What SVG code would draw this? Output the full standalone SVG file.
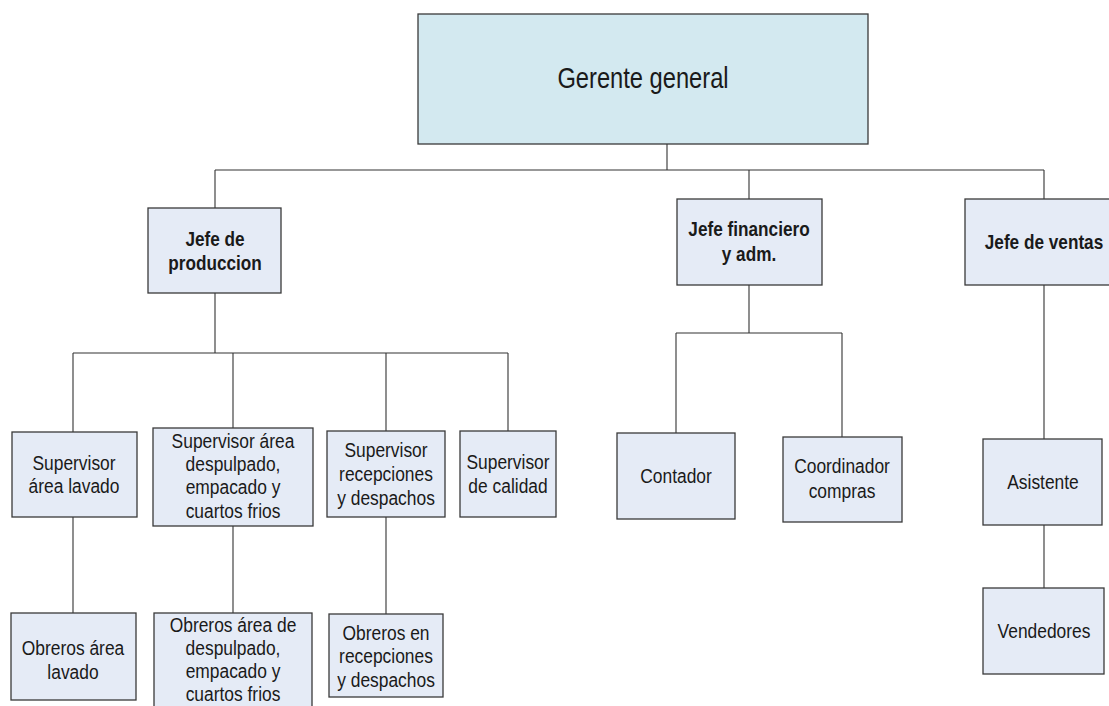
<svg xmlns="http://www.w3.org/2000/svg" width="1109" height="706" viewBox="0 0 1109 706">
  <style>
    .box { fill: #E5EBF6; stroke: #3a3a3a; stroke-width: 1.3; }
    .top { fill: #D3E9F0; stroke: #3a3a3a; stroke-width: 1.3; }
    .lbl { font-family: "Liberation Sans", Arial, sans-serif; font-size: 20px; fill: #1a1a1a; text-anchor: middle; }
    .bold { font-weight: bold; }
    .big { font-size: 30px; }
    .wire { fill: none; stroke: #333; stroke-width: 1.1; }
  </style>
  <rect width="1109" height="706" fill="#ffffff"/>

  <!-- connectors -->
  <g id="connectors" class="wire">
    <path d="M667 144 V170 M215 170 H1044 M215 170 V208 M749 170 V199 M1044 170 V199"/>
    <path d="M215 293 V353 M73 353 H508 M73 353 V432 M233 353 V428 M386 353 V431 M508 353 V431"/>
    <path d="M73 517 V613 M233 526 V613 M386 517 V614"/>
    <path d="M749 285 V333 M676 333 H842 M676 333 V433 M842 333 V437"/>
    <path d="M1044 285 V439 M1044 525 V588"/>
  </g>

  <g id="gerente">
    <rect class="top" x="418" y="14" width="450" height="130"/>
    <text class="lbl big" transform="translate(643,88) scale(0.79,1)">Gerente general</text>
  </g>

  <g id="jefe-produccion">
    <rect class="box" x="148" y="208" width="133" height="85"/>
    <text class="lbl bold" transform="translate(215,245.5) scale(0.86,1)"><tspan x="0">Jefe de</tspan><tspan x="0" dy="25">produccion</tspan></text>
  </g>

  <g id="jefe-financiero">
    <rect class="box" x="677" y="199" width="145" height="86"/>
    <text class="lbl bold" transform="translate(749,236) scale(0.86,1)"><tspan x="0">Jefe financiero</tspan><tspan x="0" dy="25">y adm.</tspan></text>
  </g>

  <g id="jefe-ventas">
    <rect class="box" x="965" y="199" width="158" height="86"/>
    <text class="lbl bold" transform="translate(1044,249) scale(0.86,1)">Jefe de ventas</text>
  </g>

  <g id="sup-lavado">
    <rect class="box" x="12" y="432" width="125" height="85"/>
    <text class="lbl" transform="translate(74,469.5) scale(0.87,1)"><tspan x="0">Supervisor</tspan><tspan x="0" dy="24">área lavado</tspan></text>
  </g>

  <g id="sup-despulpado">
    <rect class="box" x="153" y="428" width="160" height="98"/>
    <text class="lbl" transform="translate(233,447.5) scale(0.87,1)"><tspan x="0">Supervisor área</tspan><tspan x="0" dy="23.4">despulpado,</tspan><tspan x="0" dy="23.4">empacado y</tspan><tspan x="0" dy="23.4">cuartos frios</tspan></text>
  </g>

  <g id="sup-recepciones">
    <rect class="box" x="327" y="431" width="118" height="86"/>
    <text class="lbl" transform="translate(386,457) scale(0.87,1)"><tspan x="0">Supervisor</tspan><tspan x="0" dy="24">recepciones</tspan><tspan x="0" dy="24">y despachos</tspan></text>
  </g>

  <g id="sup-calidad">
    <rect class="box" x="460" y="431" width="96" height="86"/>
    <text class="lbl" transform="translate(508,469) scale(0.87,1)"><tspan x="0">Supervisor</tspan><tspan x="0" dy="24">de calidad</tspan></text>
  </g>

  <g id="obreros-lavado">
    <rect class="box" x="11" y="613" width="125" height="87"/>
    <text class="lbl" transform="translate(73,655) scale(0.87,1)"><tspan x="0">Obreros área</tspan><tspan x="0" dy="24">lavado</tspan></text>
  </g>

  <!-- this box runs past the bottom edge of the page -->
  <g id="obreros-despulpado">
    <rect class="box" x="154" y="613" width="158" height="100"/>
    <text class="lbl" transform="translate(233,632) scale(0.87,1)"><tspan x="0">Obreros área de</tspan><tspan x="0" dy="23">despulpado,</tspan><tspan x="0" dy="23">empacado y</tspan><tspan x="0" dy="23">cuartos frios</tspan></text>
  </g>

  <g id="obreros-recepciones">
    <rect class="box" x="329" y="614" width="114" height="83"/>
    <text class="lbl" transform="translate(386,640) scale(0.87,1)"><tspan x="0">Obreros en</tspan><tspan x="0" dy="23.5">recepciones</tspan><tspan x="0" dy="23.5">y despachos</tspan></text>
  </g>

  <g id="contador">
    <rect class="box" x="617" y="433" width="118" height="86"/>
    <text class="lbl" transform="translate(676,483) scale(0.87,1)">Contador</text>
  </g>

  <g id="coordinador">
    <rect class="box" x="783" y="437" width="119" height="85"/>
    <text class="lbl" transform="translate(842,473) scale(0.87,1)"><tspan x="0">Coordinador</tspan><tspan x="0" dy="25">compras</tspan></text>
  </g>

  <g id="asistente">
    <rect class="box" x="983" y="439" width="119" height="86"/>
    <text class="lbl" transform="translate(1043,489) scale(0.87,1)">Asistente</text>
  </g>

  <g id="vendedores">
    <rect class="box" x="983" y="588" width="121" height="86"/>
    <text class="lbl" transform="translate(1044,638) scale(0.87,1)">Vendedores</text>
  </g>
</svg>
